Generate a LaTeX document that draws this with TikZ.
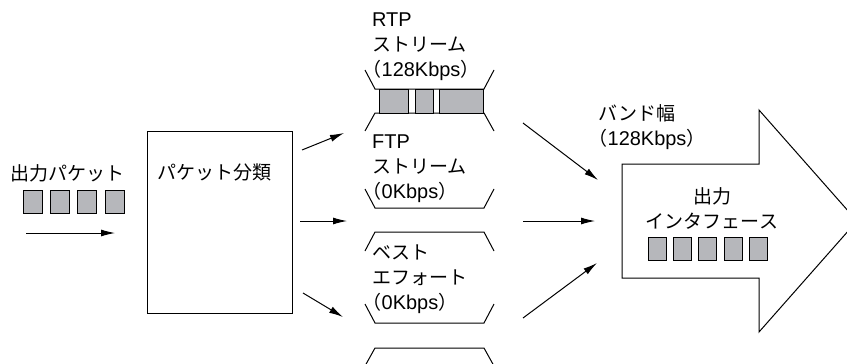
\documentclass[tikz,border=0pt]{standalone}
\usepackage{fontspec}
\setmainfont{Noto Sans CJK JP}
\newfontfamily\halfpar{Noto Sans CJK JP}[RawFeature=+halt]
\newfontfamily\lat{Liberation Sans}[Scale=1.05]
\newcommand{\lp}{{\halfpar （}}
\newcommand{\rp}{{\halfpar ）}}
\usetikzlibrary{arrows.meta, positioning}
\definecolor{pktgray}{RGB}{182,183,187}
\tikzset{
  box/.style={rectangle,draw,line width=1pt,minimum width=145pt,minimum height=182pt,inner sep=0pt},
  pkt/.style={rectangle,draw,line width=0.9pt,fill=pktgray,minimum height=23pt,inner sep=0pt},
  txt/.style={align=left,inner sep=0pt},
  tube/.style={line width=1pt},
  line/.style={-{Latex[length=14pt,width=7pt]},line width=1pt}
}

\begin{document}
\begin{tikzpicture}[x=1pt,y=-1pt,font=\fontsize{19}{25}\selectfont]
\useasboundingbox (0,0) rectangle (847,364);
\clip (0,0) rectangle (847,364);

% incoming packets
\node[txt, anchor=west] (inlbl) at (10,173) {出力パケット};
\node[pkt, minimum width=19pt] (ip1) at (32.5,201.5) {};
\node[pkt, minimum width=19pt, right=7.5pt of ip1] (ip2) {};
\node[pkt, minimum width=19pt, right=7.5pt of ip2] (ip3) {};
\node[pkt, minimum width=19pt, right=7.5pt of ip3] (ip4) {};
\coordinate (ins) at (26,233);
\coordinate (ine) at (115,233);
\draw[line] (ins) -- (ine);

% classifier
\node[box] (cls) at (219.5,222) {};
\node[txt, anchor=west] (clslbl) at ([xshift=11pt,yshift=-42pt]cls.north west) {パケット分類};

% queues
\draw[tube] (365,70) -- (375,89) -- (484,89) -- (494,70);
\draw[tube] (365,131) -- (375,113) -- (484,113) -- (494,131);
\draw[tube] (365,189) -- (375,208) -- (484,208) -- (494,189);
\draw[tube] (365,251) -- (375,232) -- (484,232) -- (494,251);
\draw[tube] (365,304) -- (375,323) -- (484,323) -- (494,304);
\draw[tube] (365,366) -- (375,348) -- (484,348) -- (494,366);
\node[pkt, minimum width=29pt, minimum height=24pt] (rp1) at (393.5,101) {};
\node[pkt, minimum width=18pt, minimum height=24pt] (rp2) at (424,101) {};
\node[pkt, minimum width=44pt, minimum height=24pt] (rp3) at (461,101) {};
\node[txt, anchor=north west] (rtp) at (372,13) {{\lat RTP}\\ストリーム\\\lp{\lat 128Kbps}\rp};
\node[txt, anchor=north west] (ftp) at (372,135) {{\lat FTP}\\ストリーム\\\lp{\lat 0Kbps}\rp};
\node[txt, anchor=north west] (be) at (372,245) {ベスト\\エフォート\\\lp{\lat 0Kbps}\rp};

\coordinate (q1s) at (302,150);
\coordinate (q1e) at (344,133);
\coordinate (q2s) at (300,221);
\coordinate (q2e) at (347,221);
\coordinate (q3s) at (303,293);
\coordinate (q3e) at (343,317);
\draw[line] (q1s) -- (q1e);
\draw[line] (q2s) -- (q2e);
\draw[line] (q3s) -- (q3e);

% output interface
\draw[line width=1pt] (622,164) -- (759,164) -- (759,110) -- (857,221)
  -- (759,332) -- (759,278) -- (622,278) -- cycle;
\node[txt, anchor=north west] (bw) at (598,104) {バンド幅\\\lp{\lat 128Kbps}\rp};
\node[txt, align=center] (outif) at (712,208) {出力\\インタフェース};
\node[pkt, minimum width=18pt] (op1) at (657,248.5) {};
\node[pkt, minimum width=18pt, right=6.5pt of op1] (op2) {};
\node[pkt, minimum width=18pt, right=6.5pt of op2] (op3) {};
\node[pkt, minimum width=18pt, right=6.5pt of op3] (op4) {};
\node[pkt, minimum width=18pt, right=6.5pt of op4] (op5) {};

\coordinate (r1s) at (523,123);
\coordinate (r1e) at (598,180);
\coordinate (r2s) at (523,221);
\coordinate (r2e) at (595,221);
\coordinate (r3s) at (523,318);
\coordinate (r3e) at (597,263);
\draw[line] (r1s) -- (r1e);
\draw[line] (r2s) -- (r2e);
\draw[line] (r3s) -- (r3e);
\end{tikzpicture}
\end{document}
